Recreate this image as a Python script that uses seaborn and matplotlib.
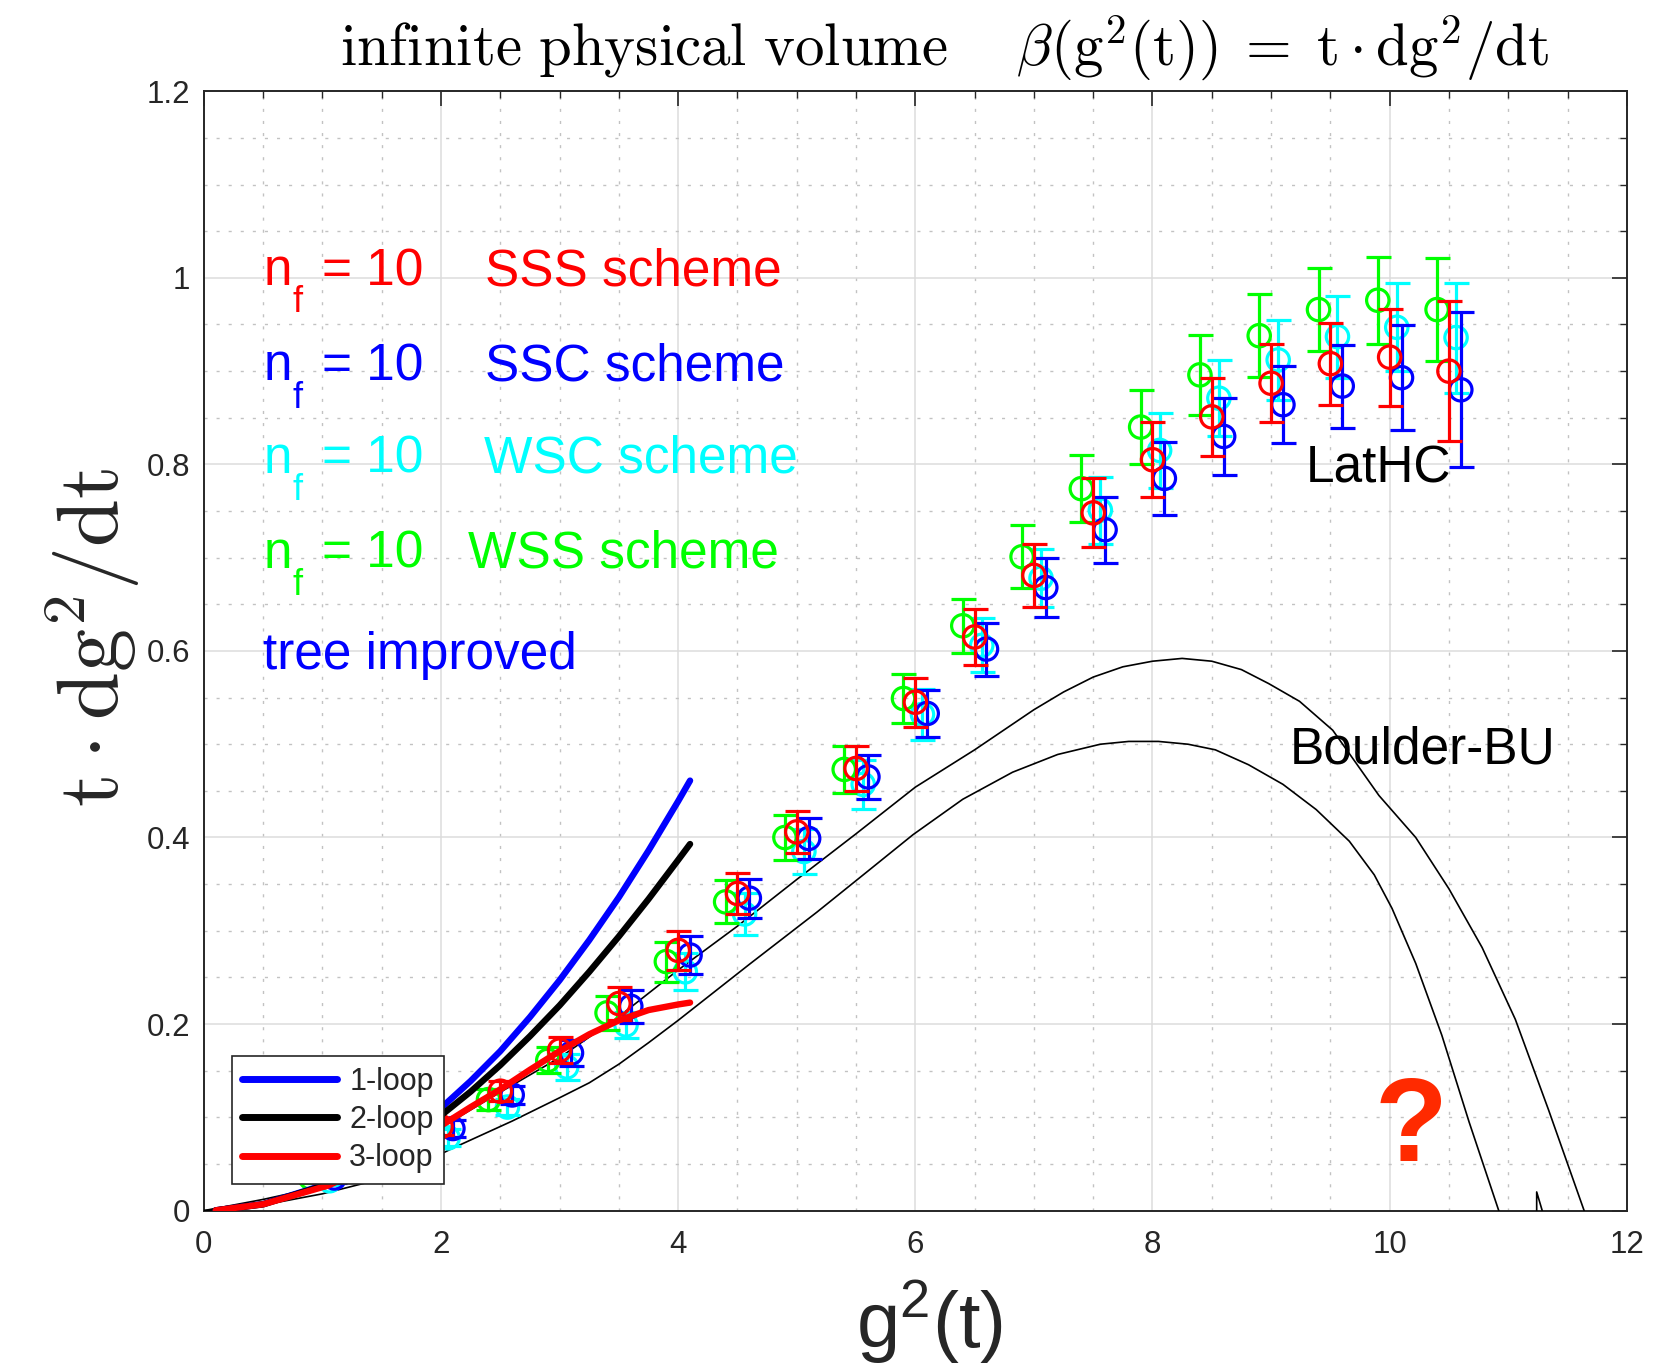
import matplotlib
matplotlib.use("Agg")
import matplotlib.pyplot as plt
import seaborn as sns
import pandas as pd
from matplotlib.ticker import MultipleLocator, FixedLocator

# ---------------- data ----------------
sss_g2 = [1.0, 1.5, 2.0, 2.5, 3.0, 3.5, 4.0, 4.5, 5.0, 5.5, 6.0, 6.5, 7.0, 7.5, 8.0, 8.5, 9.0, 9.5, 10.0, 10.5]
sss_beta = [0.036, 0.060, 0.090, 0.128, 0.172, 0.222, 0.279, 0.340, 0.406, 0.474, 0.545, 0.615, 0.681, 0.748,
            0.805, 0.851, 0.887, 0.908, 0.915, 0.900]
sss_err = [0.005, 0.007, 0.009, 0.011, 0.014, 0.018, 0.021, 0.022, 0.0225, 0.024, 0.026, 0.030, 0.034, 0.037,
           0.040, 0.042, 0.042, 0.044, 0.052, 0.075]

wss_g2 = [0.9, 1.4, 1.9, 2.4, 2.9, 3.4, 3.9, 4.4, 4.9, 5.4, 5.9, 6.4, 6.9, 7.4, 7.9, 8.4, 8.9, 9.4, 9.9, 10.4]
wss_beta = [0.035, 0.058, 0.086, 0.119, 0.161, 0.212, 0.267, 0.331, 0.400, 0.473, 0.549, 0.627, 0.701, 0.774,
            0.840, 0.896, 0.938, 0.966, 0.976, 0.966]
wss_err = [0.005, 0.007, 0.009, 0.011, 0.014, 0.018, 0.0215, 0.023, 0.024, 0.025, 0.0265, 0.029, 0.034, 0.036,
           0.040, 0.043, 0.0445, 0.0445, 0.0465, 0.055]

wsc_g2 = [1.06, 1.56, 2.06, 2.56, 3.06, 3.56, 4.06, 4.56, 5.06, 5.56, 6.06, 6.56, 7.06, 7.56, 8.06, 8.56, 9.06,
          9.56, 10.06, 10.56]
wsc_beta = [0.032, 0.052, 0.078, 0.111, 0.154, 0.199, 0.256, 0.318, 0.385, 0.457, 0.532, 0.606, 0.678, 0.751,
            0.815, 0.871, 0.912, 0.937, 0.947, 0.936]
wsc_err = [0.005, 0.007, 0.009, 0.009, 0.014, 0.014, 0.020, 0.022, 0.024, 0.026, 0.027, 0.029, 0.031, 0.036,
           0.040, 0.041, 0.043, 0.044, 0.047, 0.059]

ssc_g2 = [1.1, 1.6, 2.1, 2.6, 3.1, 3.6, 4.1, 4.6, 5.1, 5.6, 6.1, 6.6, 7.1, 7.6, 8.1, 8.6, 9.1, 9.6, 10.1, 10.6]
ssc_beta = [0.035, 0.058, 0.088, 0.124, 0.169, 0.219, 0.274, 0.335, 0.399, 0.465, 0.533, 0.602, 0.668, 0.730,
            0.785, 0.830, 0.864, 0.884, 0.893, 0.880]
ssc_err = [0.005, 0.007, 0.009, 0.010, 0.014, 0.018, 0.020, 0.021, 0.022, 0.0235, 0.0255, 0.0285, 0.032, 0.0355,
           0.039, 0.041, 0.0415, 0.0445, 0.056, 0.083]

# perturbative curves
pt_g2 = [0.1, 0.5, 1.0, 1.5, 2.0, 2.25, 2.5, 2.75, 3.0, 3.25, 3.5, 3.75, 4.0, 4.1]
one_loop = [0.0003, 0.007, 0.027, 0.062, 0.110, 0.139, 0.171, 0.2075, 0.247, 0.290, 0.336, 0.386, 0.439, 0.461]
two_loop = [0.0003, 0.0067, 0.0264, 0.0584, 0.102, 0.1276, 0.156, 0.187, 0.220, 0.256, 0.294, 0.334, 0.376, 0.393]
three_g2 = [0.1, 0.5, 1.05, 1.5, 2.0, 2.25, 2.5, 2.75, 3.0, 3.25, 3.5, 3.75, 4.0, 4.1]
three_loop = [0.0003, 0.0068, 0.027, 0.053, 0.091, 0.111, 0.130, 0.151, 0.171, 0.189, 0.204, 0.215, 0.221, 0.223]

# Boulder-BU band edges
bu_up_g2 = [0.0, 0.5, 1.0, 1.27, 1.5, 2.0, 2.5, 3.0, 3.5, 4.0, 4.5, 5.0, 5.5, 6.0, 6.5, 7.0, 7.25, 7.5, 7.75,
            8.0, 8.25, 8.5, 8.75, 8.98, 9.24, 9.52, 9.71, 9.91, 10.22, 10.5, 10.78, 11.06, 11.34, 11.64, 11.7]
bu_up_beta = [0.0, 0.012, 0.026, 0.033, 0.047, 0.089, 0.127, 0.164, 0.208, 0.258, 0.305, 0.355, 0.404, 0.454,
              0.494, 0.537, 0.556, 0.572, 0.583, 0.589, 0.592, 0.589, 0.580, 0.565, 0.546, 0.515, 0.481, 0.445,
              0.400, 0.345, 0.282, 0.205, 0.108, 0.0, -0.02]
bu_lo_g2 = [0.0, 0.5, 1.0, 1.28, 1.5, 1.75, 2.1, 2.6, 3.0, 3.25, 3.5, 3.75, 4.0, 4.25, 4.6, 5.17, 5.6, 5.98,
            6.4, 6.82, 7.2, 7.56, 7.8, 8.05, 8.3, 8.53, 8.81, 9.10, 9.38, 9.66, 9.87, 10.02, 10.22, 10.44, 10.67,
            10.92, 11.0, 11.24, 11.24, 11.31]
bu_lo_beta = [0.0, 0.006, 0.018, 0.027, 0.034, 0.045, 0.067, 0.096, 0.121, 0.137, 0.157, 0.180, 0.204, 0.229,
              0.264, 0.320, 0.364, 0.403, 0.441, 0.470, 0.489, 0.500, 0.503, 0.503, 0.500, 0.494, 0.478, 0.457,
              0.430, 0.396, 0.360, 0.324, 0.265, 0.188, 0.095, 0.0, -0.04, -0.04, 0.02, -0.01]

scheme_labels = ["SSS scheme", "SSC scheme", "WSC scheme", "WSS scheme"]
legend_labels = ["1-loop", "2-loop", "3-loop"]
x_ticks = [0, 2, 4, 6, 8, 10, 12]
y_ticks = [0, 0.2, 0.4, 0.6, 0.8, 1.0, 1.2]
y_ticklabels = ["0", "0.2", "0.4", "0.6", "0.8", "1", "1.2"]

# ---------------- style ----------------
sns.set_theme(style="white")
plt.rcParams['font.family'] = ['Liberation Sans', 'DejaVu Sans']
plt.rcParams['axes.edgecolor'] = '#262626'

W, H = 1665, 1369
fig = plt.figure(figsize=(W / 100, H / 100), dpi=100)
ax = fig.add_axes([203.9 / W, 1 - 1210.6 / H, (1626.8 - 203.9) / W, (1210.6 - 91.3) / H])

ax.set_xlim(0, 12)
ax.set_ylim(0, 1.2)
ax.xaxis.set_major_locator(FixedLocator(x_ticks))
ax.yaxis.set_major_locator(FixedLocator(y_ticks))
ax.set_yticklabels(y_ticklabels)
ax.xaxis.set_minor_locator(MultipleLocator(0.5))
ax.yaxis.set_minor_locator(MultipleLocator(0.05))
ax.set_axisbelow(True)
ax.grid(which='major', color='#dcdcdc', lw=1.1, ls='-')
ax.grid(which='minor', color='#c2c2c2', lw=1.0, ls=(0, (2.2, 6.5)))
for s in ax.spines.values():
    s.set_visible(True)
    s.set_linewidth(1.4)
    s.set_color('#262626')
ax.tick_params(which='major', direction='in', length=11, width=1.2, top=True, right=True,
               labelsize=22.5, colors='#262626', pad=10)
ax.tick_params(which='minor', direction='in', length=5, width=1.0, top=True, right=True, colors='#262626')
ax.tick_params(axis='x', which='major', pad=14)

# ---------------- Boulder-BU curves ----------------
sns.lineplot(x=bu_up_g2, y=bu_up_beta, sort=False, estimator=None, color='black', linewidth=1.2, ax=ax, zorder=3)
sns.lineplot(x=bu_lo_g2, y=bu_lo_beta, sort=False, estimator=None, color='black', linewidth=1.2, ax=ax, zorder=3)

# ---------------- lattice data ----------------
series = [
    (wsc_g2, wsc_beta, wsc_err, '#00ffff'),
    (wss_g2, wss_beta, wss_err, '#00ff00'),
    (ssc_g2, ssc_beta, ssc_err, '#0000ff'),
    (sss_g2, sss_beta, sss_err, '#ff0000'),
]
z = 4
for xs, ys, es, c in series:
    ax.errorbar(xs, ys, yerr=es, fmt='none', ecolor=c, elinewidth=2.3, capsize=9, capthick=2.3, zorder=z)
    sns.scatterplot(x=xs, y=ys, marker='o', s=260, ax=ax, zorder=z + 0.5, legend=False)
    coll = ax.collections[-1]
    coll.set_facecolor('none')
    coll.set_edgecolor(c)
    coll.set_linewidth(2.3)
    z += 1

# ---------------- perturbative curves ----------------
df_pt = pd.DataFrame({"g2": pt_g2, "one": one_loop, "two": two_loop})
sns.lineplot(data=df_pt, x="g2", y="one", color='#0000ff', linewidth=4.6, ax=ax, zorder=10, label=legend_labels[0])
sns.lineplot(data=df_pt, x="g2", y="two", color='black', linewidth=4.6, ax=ax, zorder=10, label=legend_labels[1])
sns.lineplot(x=three_g2, y=three_loop, color='#ff0000', linewidth=4.6, ax=ax, zorder=10, label=legend_labels[2])
ax.set_xlabel("")
ax.set_ylabel("")

handles = ax.get_lines()
h_pt = [l for l in handles if l.get_label() in legend_labels]
leg = ax.legend(handles=h_pt, labels=legend_labels, loc='lower left', bbox_to_anchor=(0.0194, 0.0238),
                borderaxespad=0, frameon=True, fancybox=False, framealpha=1, edgecolor='#262626',
                fontsize=22, handlelength=3.1, handletextpad=0.4, labelspacing=0.27, borderpad=0.35)
leg.get_frame().set_linewidth(1.2)
leg.set_zorder(20)
for lh in leg.get_lines():
    lh.set_linewidth(5)

# ---------------- annotations ----------------
colors_lbl = ['#ff0000', '#0000ff', '#00ffff', '#00ff00']
ys_lbl = [0.992, 0.890, 0.791, 0.689]
xs_scheme = [2.37, 2.37, 2.36, 2.23]
for lbl, c, yb, xsch in zip(scheme_labels, colors_lbl, ys_lbl, xs_scheme):
    ax.text(0.50, yb, "n", color=c, fontsize=37, va='baseline', ha='left', zorder=15)
    ax.text(0.745, yb - 0.029, "f", color=c, fontsize=26, va='baseline', ha='left', zorder=15)
    ax.text(1.0, yb, "= 10", color=c, fontsize=37, va='baseline', ha='left', zorder=15)
    ax.text(xsch, yb, lbl, color=c, fontsize=37, va='baseline', ha='left', zorder=15)
ax.text(0.50, 0.581, "tree improved", color='#0000ff', fontsize=37, va='baseline', ha='left', zorder=15)
ax.text(9.29, 0.781, "LatHC", color='black', fontsize=37, va='baseline', ha='left', zorder=15)
ax.text(9.16, 0.479, "Boulder-BU", color='black', fontsize=37, va='baseline', ha='left', zorder=15)
ax.text(10.18, 0.053, "?", color='#ff2a00', fontsize=86, fontweight='bold', va='baseline', ha='center', zorder=15)

# ---------------- titles / labels ----------------
fig.text(944 / W, 1 - 48 / H,
         r"$\mathrm{infinite\ physical\ volume}\quad\ \beta(\mathrm{g}^2(\mathrm{t}))\;=\;\mathrm{t}\cdot\mathrm{dg}^2/\mathrm{dt}$",
         math_fontfamily='cm', fontsize=42.4, ha='center', va='center', color='black')
fig.text(93 / W, 1 - 637 / H, r"$\mathrm{t}\cdot\mathrm{dg}^2/\mathrm{dt}$", math_fontfamily='cm',
         fontsize=62, rotation=90, ha='center', va='center', color='#262626')
fig.text(930 / W, 1 - 1348 / H, r"g$^\mathregular{2}$(t)", fontsize=56, ha='center', va='baseline',
         color='#262626')

fig.savefig("out.png", dpi=100)
